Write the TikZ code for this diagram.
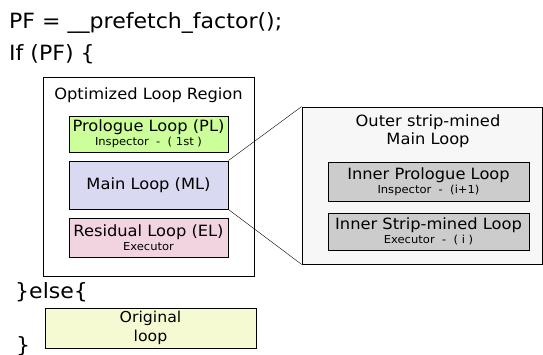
\documentclass[tikz,border=0pt]{standalone}
\usepackage{fontspec}
\setmainfont[FakeStretch=1.05]{DejaVu Sans}
\definecolor{plgreen}{HTML}{CCFF99}
\definecolor{mlblue}{HTML}{D9D9F2}
\definecolor{elpink}{HTML}{F2D4E0}
\definecolor{outergray}{HTML}{F7F7F7}
\definecolor{innergray}{HTML}{CCCCCC}
\definecolor{origyellow}{HTML}{F5FAD2}
\newcommand\subtxt{\fontsize{11}{13}\selectfont}
\begin{document}
\begin{tikzpicture}[x=1pt,y=-1pt,
	loopbox/.style={draw,line width=1pt,inner sep=0pt,align=center,font=\fontsize{15.5}{18}\selectfont},
	code/.style={anchor=base west,inner sep=0pt,font=\fontsize{21}{24}\selectfont}]
		\useasboundingbox (0,0) rectangle (543,354);
		% code lines
		\node[code](pf) at (9,28.5) {PF = \_\_prefetch\_factor();};
		\node[code](iff) at (9,60) {If (PF) \{};
		\node[code](els) at (15,298.5) {\}else\{};
		\node[code](cls) at (16,352.5) {\}};
		% optimized region
		\node[loopbox,line width=0.8pt,minimum width=211pt,minimum height=199pt](reg) at (148.5,176.5) {};
		\node[inner sep=0pt,font=\fontsize{15.5}{18}\selectfont](regt) at (148.5,95) {Optimized Loop Region};
		\node[loopbox,fill=plgreen,minimum width=159pt,minimum height=36pt](pl) at (148.5,134) {Prologue Loop (PL)\\[-4pt]{\subtxt Inspector \ - \ ( 1st )}};
		\node[loopbox,fill=mlblue,minimum width=159pt,minimum height=48pt](ml) at (148.5,185) {Main Loop (ML)};
		\node[loopbox,fill=elpink,minimum width=159pt,minimum height=39pt](el) at (148.5,237.5) {Residual Loop (EL)\\[-4pt]{\subtxt Executor}};
		% strip-mined main loop
		\node[loopbox,line width=0.8pt,fill=outergray,minimum width=240pt,minimum height=157pt](outer) at (422,185.5) {};
		\node[inner sep=0pt,align=center,font=\fontsize{15.5}{18}\selectfont](outert) at (428,131) {Outer strip-mined\\Main Loop};
		\node[loopbox,fill=innergray,minimum width=201pt,minimum height=39pt](ipl) at (428.5,181.5) {Inner Prologue Loop\\[-4pt]{\subtxt Inspector \ - \ (i+1)}};
		\node[loopbox,fill=innergray,minimum width=201pt,minimum height=37pt](isl) at (428.5,231.5) {Inner Strip-mined Loop\\[-4pt]{\subtxt Executor \ - \ ( i )}};
		\draw(ml.north east)--(outer.north west) (ml.south east)--(outer.south west);
		% fallback
		\node[loopbox,line width=0.8pt,fill=origyellow,minimum width=211pt,minimum height=40pt,font=\fontsize{15}{19}\selectfont](orig) at (150.5,328) {Original\\loop};
	\end{tikzpicture}
\end{document}
